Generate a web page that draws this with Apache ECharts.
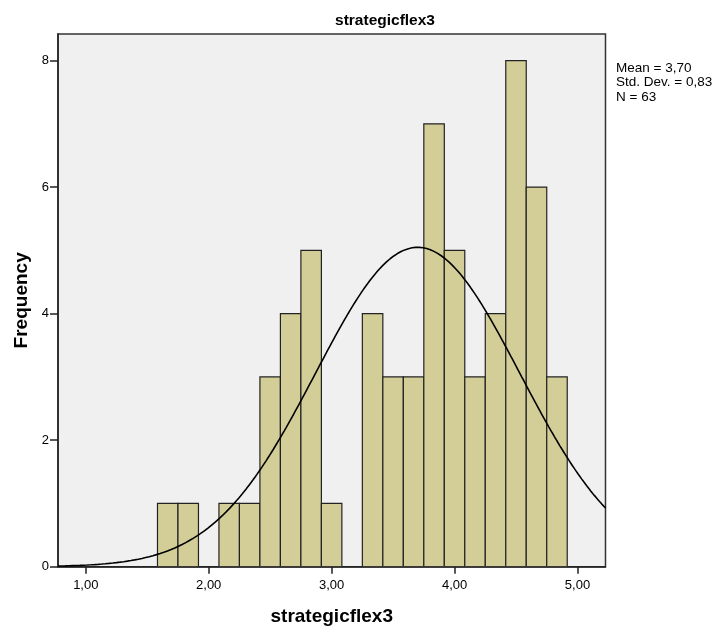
<!DOCTYPE html>
<html>
<head>
<meta charset="utf-8">
<script src="https://cdn.jsdelivr.net/npm/echarts@6/dist/echarts.min.js"></script>
<style>html,body{margin:0;padding:0;background:#fff;}#chart{width:718px;height:632px;}</style>
</head>
<body>
<div id="chart"></div>
<script>
// Histogram bins (left edge, right edge) and frequencies
const binStarts = [1.5833,1.75,1.9167,2.0833,2.25,2.4167,2.5833,2.75,2.9167,3.0833,3.25,3.4167,3.5833,3.75,3.9167,4.0833,4.25,4.4167,4.5833,4.75];
const binEnds   = [1.75,1.9167,2.0833,2.25,2.4167,2.5833,2.75,2.9167,3.0833,3.25,3.4167,3.5833,3.75,3.9167,4.0833,4.25,4.4167,4.5833,4.75,4.9167];
const counts    = [1,1,0,1,1,3,4,5,1,0,4,3,3,7,5,3,4,8,6,3];
const xTicks = [1,2,3,4,5];
const xTickLabels = ['1,00','2,00','3,00','4,00','5,00'];
const yTicks = [0,2,4,6,8];
const stats = {mean:3.70, sd:0.83, n:63};
const statLabels = ['Mean = 3,70','Std. Dev. = 0,83','N = 63'];

const xMin = 0.774, xMax = 5.228;
const binWidth = binEnds[0] - binStarts[0];

const barData = binStarts.map((s,i)=>[s, binEnds[i], counts[i]]).filter(d=>d[2]>0);

// normal curve from displayed stats
const curve = [];
const steps = 300;
for (let i=0;i<=steps;i++){
  const x = xMin + (xMax-xMin)*i/steps;
  const z = (x-stats.mean)/stats.sd;
  curve.push([x, stats.n*binWidth/(stats.sd*Math.sqrt(2*Math.PI))*Math.exp(-0.5*z*z)]);
}

const FONT = '"Liberation Sans", Arial, sans-serif';
const chart = echarts.init(document.getElementById('chart'));
chart.setOption({
  animation:false,
  backgroundColor:'#ffffff',
  textStyle:{fontFamily:FONT},
  title:{text:'strategicflex3', left:380, top:8, textAlign:'center',
    textStyle:{fontFamily:FONT, fontSize:15.5, fontWeight:'bold', color:'#000'}},
  grid:{left:58, right:112.5, top:34, bottom:65.3, show:true, backgroundColor:'#F0F0F0', borderColor:'#333', borderWidth:1.5},
  xAxis:{type:'value', min:xMin, max:xMax,
    name:'strategicflex3', nameLocation:'middle', nameGap:41,
    nameTextStyle:{fontFamily:FONT, fontSize:19, fontWeight:'bold', color:'#000'},
    axisLine:{show:true, lineStyle:{color:'#222', width:1.5}},
    axisTick:{show:true, length:7, customValues:xTicks, lineStyle:{color:'#222', width:1.5}},
    axisLabel:{customValues:xTicks, margin:12, fontSize:13, color:'#000', fontFamily:FONT,
      formatter:v=>xTickLabels[xTicks.indexOf(Math.round(v))]},
    splitLine:{show:false}},
  yAxis:{type:'value', min:0, max:8.42,
    name:'Frequency', nameLocation:'middle', nameGap:27, nameRotate:90,
    nameTextStyle:{fontFamily:FONT, fontSize:19, fontWeight:'bold', color:'#000'},
    axisLine:{show:true, lineStyle:{color:'#222', width:1.5}},
    axisTick:{show:true, length:8, customValues:yTicks, lineStyle:{color:'#222', width:1.5}},
    axisLabel:{customValues:yTicks, margin:9, fontSize:13, color:'#000', fontFamily:FONT},
    splitLine:{show:false}},
  series:[
    {type:'custom', data:barData, clip:true, z:2,
      renderItem:(params, api)=>{
        const p0 = api.coord([api.value(0), 0]);
        const p1 = api.coord([api.value(1), api.value(2)]);
        return {type:'rect', shape:{x:p0[0], y:p1[1], width:p1[0]-p0[0], height:p0[1]-p1[1]},
          style:{fill:'#D3CE97', stroke:'#222', lineWidth:1.2}};
      }},
    {type:'line', data:curve, showSymbol:false, smooth:false, z:3, clip:true,
      lineStyle:{color:'#000', width:1.6}}
  ],
  graphic:[
    {type:'text', left:616, top:61, style:{text:statLabels.join('\n'), font:'13.5px '+FONT, lineHeight:14.5, fill:'#000'}}
  ]
});
</script>
</body>
</html>
